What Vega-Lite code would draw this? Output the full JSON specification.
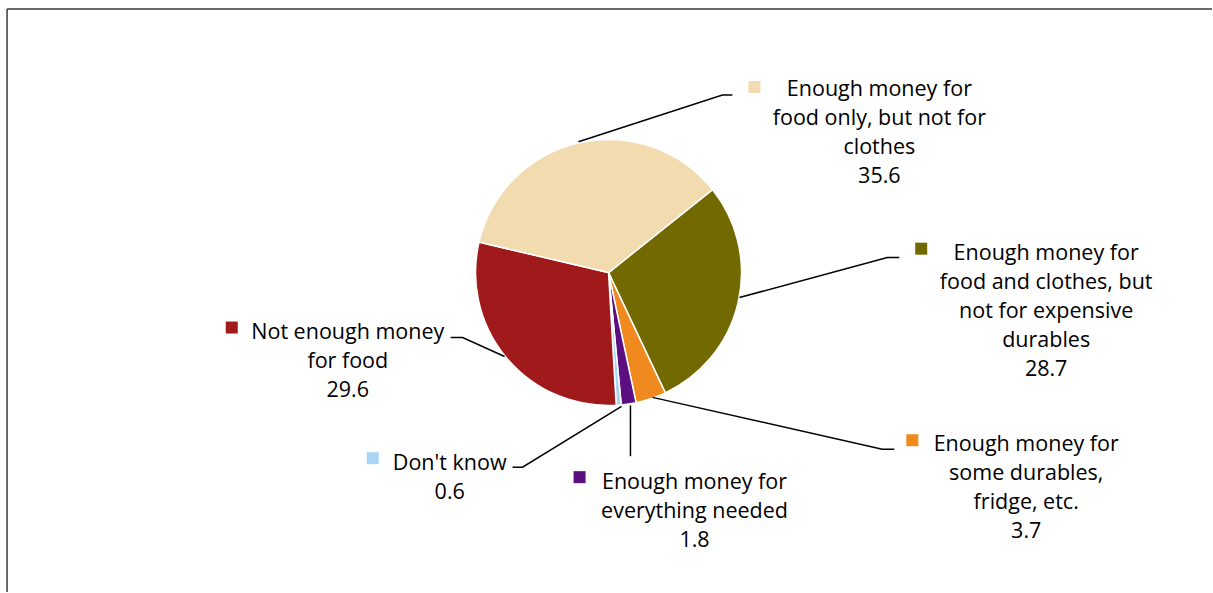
{
  "$schema": "https://vega.github.io/schema/vega-lite/v6.json",
  "width": 1213,
  "height": 593,
  "autosize": {"type": "fit", "contains": "padding"},
  "padding": 0,
  "background": "white",
  "config": {"view": {"stroke": null}},
  "datasets": {
    "shares": [
      {"category": "Enough money for food and clothes, but not for expensive durables", "share": 28.7, "idx": 1},
      {"category": "Enough money for some durables, fridge, etc.", "share": 3.7, "idx": 2},
      {"category": "Enough money for everything needed", "share": 1.8, "idx": 3},
      {"category": "Don't know", "share": 0.6, "idx": 4},
      {"category": "Not enough money for food", "share": 29.6, "idx": 5},
      {"category": "Enough money for food only, but not for clothes", "share": 35.6, "idx": 6}
    ],
    "labels": [
      {"category": "Enough money for food only, but not for clothes", "lines": ["Enough money for", "food only, but not for", "clothes", "35.6"], "lx": 2.038, "ly": 1.387, "mx": 1.098, "my": 1.398},
      {"category": "Enough money for food and clothes, but not for expensive durables", "lines": ["Enough money for", "food and clothes, but", "not for expensive", "durables", "28.7"], "lx": 3.293, "ly": 0.154, "mx": 2.353, "my": 0.18},
      {"category": "Enough money for some durables, fridge, etc.", "lines": ["Enough money for", "some durables,", "fridge, etc.", "3.7"], "lx": 3.143, "ly": -1.282, "mx": 2.286, "my": -1.263},
      {"category": "Enough money for everything needed", "lines": ["Enough money for", "everything needed", "1.8"], "lx": 0.647, "ly": -1.567, "mx": -0.218, "my": -1.541},
      {"category": "Don't know", "lines": ["Don't know", "0.6"], "lx": -1.195, "ly": -1.425, "mx": -1.774, "my": -1.398},
      {"category": "Not enough money for food", "lines": ["Not enough money", "for food", "29.6"], "lx": -1.962, "ly": -0.44, "mx": -2.835, "my": -0.414}
    ],
    "leaders": [
      {"category": "Enough money for food only, but not for clothes", "pt": 1, "px": -0.226, "py": 0.985},
      {"category": "Enough money for food only, but not for clothes", "pt": 2, "px": 0.857, "py": 1.338},
      {"category": "Enough money for food only, but not for clothes", "pt": 3, "px": 0.932, "py": 1.338},
      {"category": "Enough money for food and clothes, but not for expensive durables", "pt": 1, "px": 0.985, "py": -0.188},
      {"category": "Enough money for food and clothes, but not for expensive durables", "pt": 2, "px": 2.098, "py": 0.113},
      {"category": "Enough money for food and clothes, but not for expensive durables", "pt": 3, "px": 2.188, "py": 0.113},
      {"category": "Enough money for some durables, fridge, etc.", "pt": 1, "px": 0.331, "py": -0.94},
      {"category": "Enough money for some durables, fridge, etc.", "pt": 2, "px": 2.06, "py": -1.331},
      {"category": "Enough money for some durables, fridge, etc.", "pt": 3, "px": 2.15, "py": -1.331},
      {"category": "Enough money for everything needed", "pt": 1, "px": 0.165, "py": -1.0},
      {"category": "Enough money for everything needed", "pt": 2, "px": 0.165, "py": -1.383},
      {"category": "Don't know", "pt": 1, "px": 0.098, "py": -1.008},
      {"category": "Don't know", "pt": 2, "px": -0.647, "py": -1.466},
      {"category": "Don't know", "pt": 3, "px": -0.722, "py": -1.466},
      {"category": "Not enough money for food", "pt": 1, "px": -0.782, "py": -0.632},
      {"category": "Not enough money for food", "pt": 2, "px": -1.098, "py": -0.489},
      {"category": "Not enough money for food", "pt": 3, "px": -1.188, "py": -0.489}
    ]
  },
  "layer": [
    {
      "data": {"values": [{}]},
      "mark": {"type": "rule", "stroke": "#3a3a3a", "strokeWidth": 1.5},
      "encoding": {
        "x": {"datum": -4.526, "type": "quantitative", "scale": {"domain": [-4.579, 4.541], "nice": false, "zero": false}, "axis": null},
        "y": {"datum": 1.985, "type": "quantitative", "scale": {"domain": [-2.406, 2.053], "nice": false, "zero": false}, "axis": null},
        "y2": {"datum": -2.406}
      }
    },
    {
      "data": {"values": [{}]},
      "mark": {"type": "rule", "stroke": "#3a3a3a", "strokeWidth": 1.5},
      "encoding": {
        "x": {"datum": -4.526, "type": "quantitative", "scale": {"domain": [-4.579, 4.541], "nice": false, "zero": false}, "axis": null},
        "x2": {"datum": 4.541},
        "y": {"datum": 1.985, "type": "quantitative", "scale": {"domain": [-2.406, 2.053], "nice": false, "zero": false}, "axis": null}
      }
    },
    {
      "data": {"name": "shares"},
      "mark": {"type": "arc", "radius": 133, "stroke": "white", "strokeWidth": 1.5},
      "encoding": {
        "theta": {"field": "share", "type": "quantitative", "stack": true, "scale": {"range": [0.897, 7.1802]}},
        "order": {"field": "idx", "type": "quantitative"},
        "color": {
          "field": "category", "type": "nominal", "legend": null,
          "scale": {
            "domain": ["Enough money for food and clothes, but not for expensive durables", "Enough money for some durables, fridge, etc.", "Enough money for everything needed", "Don't know", "Not enough money for food", "Enough money for food only, but not for clothes"],
            "range": ["#726A00", "#F08A1F", "#5C0F80", "#A8D4F6", "#A01A1C", "#F2DBAE"]
          }
        },
        "x": {"datum": 0, "type": "quantitative", "scale": {"domain": [-4.579, 4.541], "nice": false, "zero": false}, "axis": null},
        "y": {"datum": 0, "type": "quantitative", "scale": {"domain": [-2.406, 2.053], "nice": false, "zero": false}, "axis": null}
      }
    },
    {
      "data": {"name": "leaders"},
      "mark": {"type": "line", "stroke": "black", "strokeWidth": 1.5},
      "encoding": {
        "x": {"field": "px", "type": "quantitative", "scale": {"domain": [-4.579, 4.541], "nice": false, "zero": false}, "axis": null},
        "y": {"field": "py", "type": "quantitative", "scale": {"domain": [-2.406, 2.053], "nice": false, "zero": false}, "axis": null},
        "detail": {"field": "category", "type": "nominal"},
        "order": {"field": "pt", "type": "quantitative"}
      }
    },
    {
      "data": {"name": "labels"},
      "mark": {"type": "point", "shape": "square", "filled": true, "opacity": 1, "size": 144},
      "encoding": {
        "x": {"field": "mx", "type": "quantitative", "scale": {"domain": [-4.579, 4.541], "nice": false, "zero": false}, "axis": null},
        "y": {"field": "my", "type": "quantitative", "scale": {"domain": [-2.406, 2.053], "nice": false, "zero": false}, "axis": null},
        "color": {"field": "category", "type": "nominal", "legend": null}
      }
    },
    {
      "data": {"name": "labels"},
      "mark": {"type": "text", "font": "Open Sans", "fontSize": 21.5, "lineHeight": 29, "baseline": "middle", "align": "center", "color": "#000000", "dy": 2},
      "encoding": {
        "x": {"field": "lx", "type": "quantitative", "scale": {"domain": [-4.579, 4.541], "nice": false, "zero": false}, "axis": null},
        "y": {"field": "ly", "type": "quantitative", "scale": {"domain": [-2.406, 2.053], "nice": false, "zero": false}, "axis": null},
        "text": {"field": "lines", "type": "nominal"}
      }
    }
  ],
  "resolve": {"scale": {"x": "shared", "y": "shared", "color": "shared"}}
}
